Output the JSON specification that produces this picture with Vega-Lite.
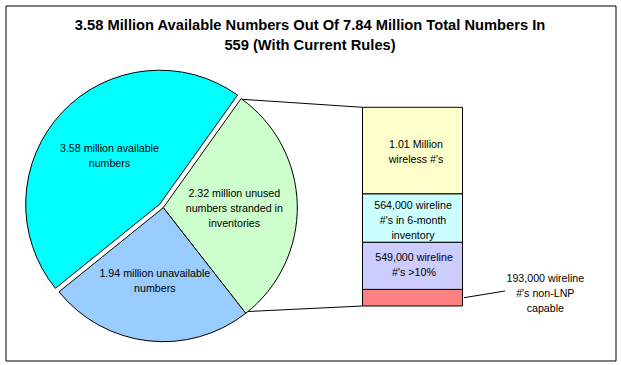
{
  "$schema": "https://vega.github.io/schema/vega-lite/v6.json",
  "width": 621,
  "height": 365,
  "autosize": {"type": "fit", "contains": "padding"},
  "padding": {"left": 5.5, "top": 5.5, "right": 5.5, "bottom": 4.5},
  "background": "white",
  "config": {
    "view": {"stroke": "black", "strokeWidth": 1},
    "text": {"font": "Liberation Sans", "fontSize": 10.67, "lineHeight": 15, "lineBreak": "\n", "color": "black"}
  },
  "datasets": {
    "pie": [
      {"name": "unused", "v": 2.32, "k": 1, "label": "2.32 million unused\nnumbers stranded in\ninventories"},
      {"name": "unavailable", "v": 1.94, "k": 2, "label": "1.94 million unavailable\nnumbers"},
      {"name": "available", "v": 3.58, "k": 3, "label": "3.58 million available\nnumbers"}
    ],
    "bar": [
      {"name": "wireless", "v": 1.01, "k": 1, "label": "1.01 Million\nwireless #'s"},
      {"name": "inventory", "v": 0.564, "k": 2, "label": "564,000 wireline\n#'s in 6-month\ninventory"},
      {"name": "over10", "v": 0.549, "k": 3, "label": "549,000 wireline\n#'s >10%"},
      {"name": "nonLNP", "v": 0.193, "k": 4, "label": "193,000 wireline\n#'s non-LNP\ncapable"}
    ],
    "one": [{}]
  },
  "layer": [
    {
      "data": {"name": "one"},
      "mark": {"type": "rule", "color": "black", "strokeWidth": 1},
      "encoding": {
        "x": {"datum": 241.7, "type": "quantitative", "scale": {"domain": [5.5, 615.5], "nice": false, "zero": false}, "axis": null},
        "x2": {"datum": 362.5},
        "y": {"datum": 2.4091, "type": "quantitative", "scale": {"domain": [-0.6352, 3.5023], "nice": false, "zero": false}, "axis": null},
        "y2": {"datum": 2.3159}
      }
    },
    {
      "data": {"name": "one"},
      "mark": {"type": "rule", "color": "black", "strokeWidth": 1},
      "encoding": {
        "x": {"datum": 244.3, "type": "quantitative"},
        "x2": {"datum": 362.5},
        "y": {"datum": -0.0664, "type": "quantitative"},
        "y2": {"datum": 0}
      }
    },
    {
      "data": {"name": "one"},
      "mark": {"type": "rule", "color": "black", "strokeWidth": 1},
      "encoding": {
        "x": {"datum": 464, "type": "quantitative"},
        "x2": {"datum": 505},
        "y": {"datum": 0.0967, "type": "quantitative"},
        "y2": {"datum": 0.1748}
      }
    },
    {
      "data": {"name": "pie"},
      "mark": {"type": "arc", "radius": 134, "stroke": "black", "strokeWidth": 1,
               "x": {"expr": "scale('x', 159.7)"}, "y": {"expr": "scale('y', 1.1865)"}},
      "encoding": {
        "theta": {"field": "v", "type": "quantitative", "stack": true, "scale": {"range": [0.6196, 6.9028]}},
        "order": {"field": "k"},
        "color": {"field": "name", "type": "nominal", "legend": null,
          "scale": {"domain": ["unused", "unavailable", "available", "wireless", "inventory", "over10", "nonLNP"],
                    "range": ["#CCFFCC", "#99CCFF", "#00FFFF", "#FFFFCC", "#CCFFFF", "#CCCCFF", "#FF8080"]}},
        "opacity": {"condition": {"test": "datum.name === 'available'", "value": 1}, "value": 0}
      }
    },
    {
      "data": {"name": "pie"},
      "mark": {"type": "arc", "radius": 134, "stroke": "black", "strokeWidth": 1,
               "x": {"expr": "scale('x', 163.3)"}, "y": {"expr": "scale('y', 1.1457)"}},
      "encoding": {
        "theta": {"field": "v", "type": "quantitative", "stack": true, "scale": {"range": [0.6196, 6.9028]}},
        "order": {"field": "k"},
        "color": {"field": "name", "type": "nominal", "legend": null},
        "opacity": {"condition": {"test": "datum.name === 'available'", "value": 0}, "value": 1}
      }
    },
    {
      "data": {"name": "pie"},
      "mark": {"type": "text", "radius": 71, "align": "center", "baseline": "middle", "dy": -12.5,
               "x": {"expr": "scale('x', 163.3)"}, "y": {"expr": "scale('y', 1.1457)"}},
      "encoding": {
        "theta": {"field": "v", "type": "quantitative", "stack": true, "scale": {"range": [0.6196, 6.9028]}},
        "order": {"field": "k"},
        "text": {"condition": {"test": "datum.k == 1", "field": "label"}, "value": ""}
      }
    },
    {
      "data": {"name": "pie"},
      "mark": {"type": "text", "radius": 74, "align": "center", "baseline": "middle", "dy": -7.5,
               "x": {"expr": "scale('x', 163.3)"}, "y": {"expr": "scale('y', 1.1457)"}},
      "encoding": {
        "theta": {"field": "v", "type": "quantitative", "stack": true, "scale": {"range": [0.6196, 6.9028]}},
        "order": {"field": "k"},
        "text": {"condition": {"test": "datum.k != 1", "field": "label"}, "value": ""}
      }
    },
    {
      "data": {"name": "bar"},
      "mark": {"type": "bar", "stroke": "black", "strokeWidth": 1, "width": 100,
               "x": {"expr": "scale('x', 412.5)"}},
      "encoding": {
        "y": {"field": "v", "type": "quantitative", "stack": "zero"},
        "order": {"field": "k", "sort": "descending"},
        "color": {"field": "name", "type": "nominal", "legend": null}
      }
    },
    {
      "data": {"name": "bar"},
      "mark": {"type": "text", "align": "center", "baseline": "middle", "dy": -6,
               "x": {"expr": "scale('x', 416)"}},
      "encoding": {
        "y": {"field": "v", "type": "quantitative", "stack": "zero", "bandPosition": 0.5},
        "order": {"field": "k", "sort": "descending"},
        "text": {"condition": {"test": "datum.k == 1", "field": "label"}, "value": ""}
      }
    },
    {
      "data": {"name": "bar"},
      "mark": {"type": "text", "align": "center", "baseline": "middle", "dy": -8,
               "x": {"expr": "scale('x', 414)"}},
      "encoding": {
        "y": {"field": "v", "type": "quantitative", "stack": "zero", "bandPosition": 0.5},
        "order": {"field": "k", "sort": "descending"},
        "text": {"condition": {"test": "datum.k == 3", "field": "label"}, "value": ""}
      }
    },
    {
      "data": {"name": "bar"},
      "mark": {"type": "text", "align": "center", "baseline": "middle", "dy": -12.5,
               "x": {"expr": "scale('x', 413)"}},
      "encoding": {
        "y": {"field": "v", "type": "quantitative", "stack": "zero", "bandPosition": 0.5},
        "order": {"field": "k", "sort": "descending"},
        "text": {"condition": {"test": "datum.k == 2", "field": "label"}, "value": ""}
      }
    },
    {
      "data": {"name": "bar"},
      "mark": {"type": "text", "align": "center", "baseline": "middle", "dy": -19,
               "x": {"expr": "scale('x', 545.3)"}},
      "encoding": {
        "y": {"field": "v", "type": "quantitative", "stack": "zero", "bandPosition": 0.5},
        "order": {"field": "k", "sort": "descending"},
        "text": {"condition": {"test": "datum.k == 4", "field": "label"}, "value": ""}
      }
    },
    {
      "data": {"name": "one"},
      "mark": {"type": "text", "align": "center", "baseline": "middle", "fontWeight": "bold", "fontSize": 14.7, "lineHeight": 19.7,
               "text": ["3.58 Million Available Numbers Out Of 7.84 Million Total Numbers In", "559 (With Current Rules)"],
               "x": {"expr": "scale('x', 310)"}, "y": {"expr": "scale('y', 3.2634)"}}
    }
  ]
}
